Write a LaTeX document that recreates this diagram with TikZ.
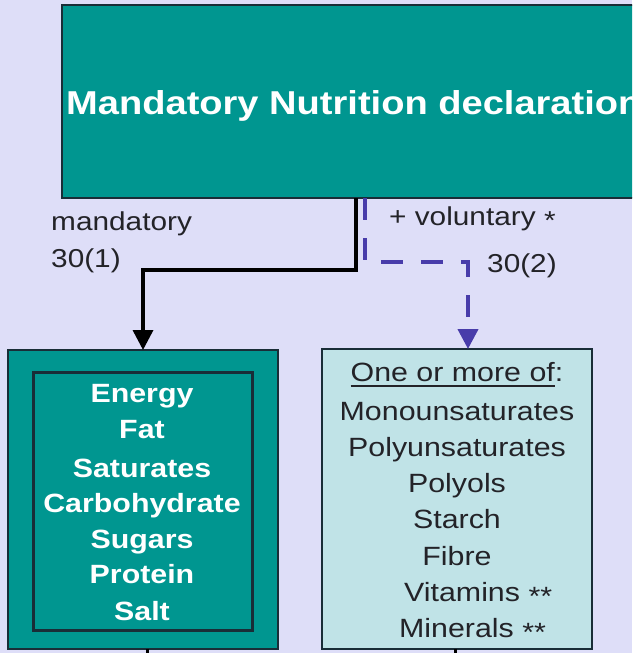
\documentclass[tikz,border=0pt]{standalone}
\usepackage{fontspec}
\setmainfont[FakeStretch=1.15]{Liberation Sans}
\usetikzlibrary{arrows.meta}
\definecolor{bgc}{RGB}{222,222,248}
\definecolor{tealc}{RGB}{0,150,144}
\definecolor{edgec}{RGB}{25,45,55}
\definecolor{lightc}{RGB}{192,227,231}
\definecolor{dashc}{RGB}{72,60,170}
\definecolor{txtc}{RGB}{35,35,40}
\newcommand{\myul}[1]{\setbox0\hbox{#1}\rlap{\rule[-6pt]{\wd0}{2.2pt}}\box0}
\begin{document}
\begin{tikzpicture}[x=1pt,y=-1pt,
  box/.style={draw=edgec, line width=2.5pt, anchor=north west, inner sep=0pt, outer sep=0pt},
  lbl/.style={anchor=base west, inner sep=0pt, text=txtc, font=\fontsize{25.9}{30}\selectfont},
  wtxt/.style={anchor=base, inner sep=0pt, text=white, font=\fontsize{26.4}{30}\selectfont\bfseries},
  rtxt/.style={anchor=base, inner sep=0pt, text=txtc, font=\fontsize{26.4}{30}\selectfont},
  solidarrow/.style={line width=3.5pt, black, -{Triangle[width=20pt,length=20pt]}},
  dasharrow/.style={line width=4pt, dashc, dash pattern=on 22pt off 18pt, -{Triangle[width=20pt,length=20pt]}},
  tick/.style={line width=3pt, black}
]
\useasboundingbox (0,0) rectangle (632,653);
\clip (0,0) rectangle (632,653);
\fill[bgc] (0,0) rectangle (632,653);

% boxes
\node[box, fill=tealc, minimum width=640pt, minimum height=193pt] (top) at (62,5) {};
\node[anchor=base west, inner sep=0pt, text=white, font=\fontsize{33.1}{38}\selectfont\bfseries] (toptext) at (66,114) {Mandatory Nutrition declaration};

\node[box, fill=tealc, minimum width=270pt, minimum height=299pt] (louter) at (8,350) {};
\node[box, fill=tealc, minimum width=219pt, minimum height=258pt, line width=3pt] (linner) at (33,372) {};
\node[box, fill=lightc, minimum width=270pt, minimum height=300pt] (rbox) at (322,349) {};

% labels
\node[lbl] (mand) at (51,230) {mandatory};
\node[lbl] (m301) at (51,267) {30(1)};
\node[lbl] (vol) at (389,225) {+ voluntary \raisebox{-4pt}{*}};
\node[lbl] (m302) at (487,272) {30(2)};

% connectors
\coordinate (sj) at (356,270);
\draw[solidarrow] (top.south -| sj) -- (sj) -| (louter.north);
\coordinate (dj) at (365,262);
\coordinate (dt) at (468,349);
\draw[dasharrow] (top.south -| dj) -- (dj) -| (rbox.north -| dt);
\coordinate (lb) at (147,665);
\coordinate (rb) at (455,665);
\draw[tick] (louter.south -| lb) -- (lb);
\draw[tick] (rbox.south -| rb) -- (rb);

% left list
\node[wtxt] (l1) at (142,402) {Energy};
\node[wtxt] (l2) at (142,438) {Fat};
\node[wtxt] (l3) at (142,477) {Saturates};
\node[wtxt] (l4) at (142,512) {Carbohydrate};
\node[wtxt] (l5) at (142,548) {Sugars};
\node[wtxt] (l6) at (142,583) {Protein};
\node[wtxt] (l7) at (142,620) {Salt};

% right list
\node[rtxt] (r0) at (457,381) {\myul{One or more of}:};
\node[rtxt] (r1) at (457,420) {Monounsaturates};
\node[rtxt] (r2) at (457,456) {Polyunsaturates};
\node[rtxt] (r3) at (457,492) {Polyols};
\node[rtxt] (r4) at (457,528) {Starch};
\node[rtxt] (r5) at (457,565) {Fibre};
\node[rtxt, anchor=base west] (r6) at (404,601) {Vitamins \raisebox{-4pt}{**}};
\node[rtxt, anchor=base west] (r7) at (399,637) {Minerals \raisebox{-4pt}{**}};
\end{tikzpicture}
\end{document}
